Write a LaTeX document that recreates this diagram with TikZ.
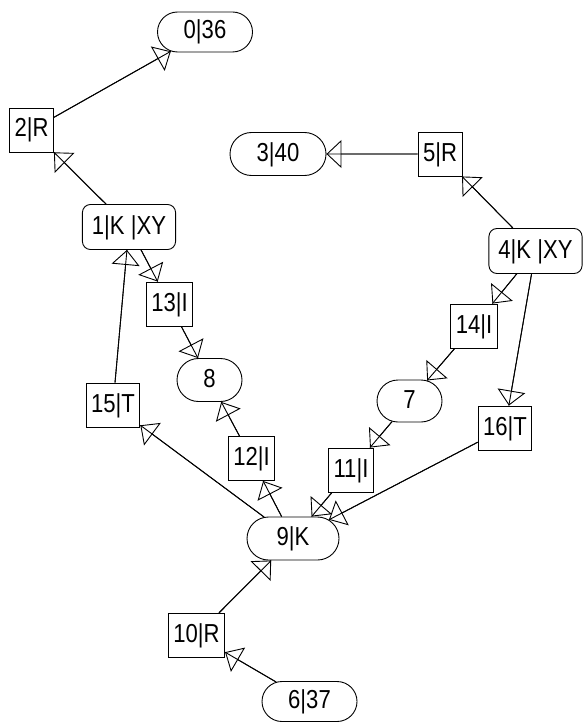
\documentclass[tikz,border=0pt]{standalone}
\usepackage{fontspec}
\setmainfont{Liberation Sans}[FakeStretch=0.85]
\usetikzlibrary{arrows.meta,shapes.misc}

\begin{document}
\begin{tikzpicture}[
    x=1pt, y=-1pt,
    every node/.style={font=\fontsize{26}{30}\selectfont, line width=0.9pt,
                       text height=19pt, text depth=5pt},
    bx/.style={rectangle, draw, minimum height=44pt, inner xsep=5pt, inner ysep=0pt},
    kn/.style={rectangle, draw, rounded corners=8pt, minimum height=45pt, inner xsep=9.5pt},
    st/.style={rounded rectangle, draw, minimum height=43pt, inner sep=0pt},
    e/.style={-{Triangle[open, length=15pt, width=28pt]}, line width=0.9pt,
              postaction={draw, arrows=-}},
  ]
  \useasboundingbox (0,0) rectangle (582,722);
  \node[st, minimum width=95pt, minimum height=40pt] (n0) at (205.0, 32.0) {0|36};
  \node[bx] (n2) at (31.5, 130.0) {2|R};
  \node[kn] (n1) at (129.0, 227.0) {1|K |XY};
  \node[st, minimum width=96pt] (n3) at (278.0, 154.0) {3|40};
  \node[bx] (n5) at (440.0, 154.0) {5|R};
  \node[kn] (n4) at (535.5, 251.0) {4|K |XY};
  \node[bx] (n13) at (169.5, 304.0) {13|I};
  \node[st, minimum width=65pt] (n8) at (209.5, 380.0) {8};
  \node[bx] (n15) at (113.0, 405.0) {15|T};
  \node[bx] (n12) at (251.5, 458.5) {12|I};
  \node[bx] (n14) at (474.0, 326.0) {14|I};
  \node[st, minimum width=65pt, minimum height=42pt] (n7) at (409.5, 401.0) {7};
  \node[bx] (n16) at (505.0, 428.0) {16|T};
  \node[bx] (n11) at (351.0, 470.0) {11|I};
  \node[st, minimum width=92pt] (n9) at (293.0, 538.5) {9|K};
  \node[bx] (n10) at (196.5, 635.5) {10|R};
  \node[st, minimum width=95pt, minimum height=40pt] (n6) at (309.5, 701.5) {6|37};
  \draw[e] (n2) -- (n0);
  \draw[e] (n1) -- (n2);
  \draw[e] (n5) -- (n3);
  \draw[e] (n4) -- (n5);
  \draw[e] (n4) -- (n14);
  \draw[e] (n4) -- (n16);
  \draw[e] (n14) -- (n7);
  \draw[e] (n7) -- (n11);
  \draw[e] (n11) -- (n9);
  \draw[e] (n16) -- (n9);
  \draw[e] (n9) -- (n12);
  \draw[e] (n12) -- (n8);
  \draw[e] (n9) -- (n15);
  \draw[e] (n15) -- (n1);
  \draw[e] (n1) -- (n13);
  \draw[e] (n13) -- (n8);
  \draw[e] (n10) -- (n9);
  \draw[e] (n6) -- (n10);
\end{tikzpicture}
\end{document}
